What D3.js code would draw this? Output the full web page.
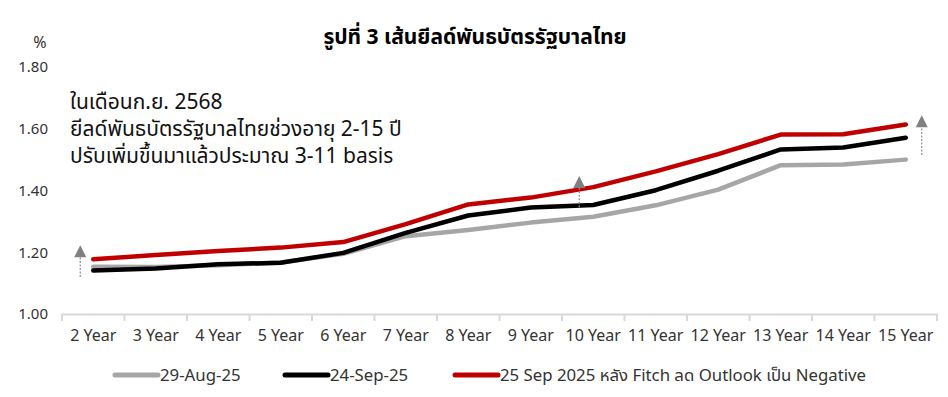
<!DOCTYPE html>
<html><head><meta charset="utf-8">
<script src="https://cdn.jsdelivr.net/npm/d3@7"></script>
<style>
body{margin:0;background:#fff;}
svg text{font-family:"Noto Sans Thai","Noto Sans","Liberation Sans",sans-serif;}
</style></head>
<body><svg id="chart" width="948" height="397"></svg>
<script>
const categories = ["2 Year","3 Year","4 Year","5 Year","6 Year","7 Year","8 Year","9 Year","10 Year","11 Year","12 Year","13 Year","14 Year","15 Year"];
const aug29 = [1.153,1.152,1.158,1.167,1.195,1.252,1.272,1.296,1.315,1.352,1.403,1.482,1.484,1.500];
const sep24 = [1.141,1.147,1.161,1.166,1.198,1.263,1.319,1.345,1.353,1.401,1.464,1.533,1.539,1.571];
const sep25 = [1.177,1.191,1.204,1.215,1.233,1.291,1.355,1.377,1.411,1.462,1.518,1.581,1.582,1.614];
const yTicks = [1.00,1.20,1.40,1.60,1.80];
const seriesNames = ["29-Aug-25","24-Sep-25","25 Sep 2025 หลัง Fitch ลด Outlook เป็น Negative"];
const seriesColors = ["#a6a6a6","#000000","#c00000"];
const arrowCats = ["2 Year","10 Year","15 Year"];
const arrowFrom = [1.12,1.346,1.515];
const arrowTo = [1.223,1.447,1.644];
const titleText = "รูปที่ 3 เส้นยีลด์พันธบัตรรัฐบาลไทย";
const noteLines = ["ในเดือนก.ย. 2568","ยีลด์พันธบัตรรัฐบาลไทยช่วงอายุ 2-15 ปี","ปรับเพิ่มขึ้นมาแล้วประมาณ 3-11 basis"];

const svg = d3.select("#chart");
const x = d3.scaleBand().domain(categories).range([62,937]);
const y = d3.scaleLinear().domain([1.0,1.8]).range([314,67]);

// title
svg.append("text").attr("x",475).attr("y",44).attr("text-anchor","middle")
  .attr("font-size",21).attr("font-weight","bold").attr("fill","#000").text(titleText);
// unit
svg.append("text").attr("x",40).attr("y",48).attr("text-anchor","middle").attr("font-size",16).attr("fill","#333").text("%");

// y axis labels
const yAxis = d3.axisLeft(y).tickValues(yTicks).tickFormat(d3.format(".2f")).tickSize(0).tickPadding(0);
const gy = svg.append("g").attr("transform","translate(48,0)").call(yAxis);
gy.select(".domain").remove();
gy.selectAll("text").attr("font-size",15).attr("fill","#333").attr("font-family",null);

// x axis
const xAxis = d3.axisBottom(x).tickSize(0).tickPadding(16);
const gx = svg.append("g").attr("transform","translate(0,314)").call(xAxis);
gx.select(".domain").attr("stroke","#d9d9d9").attr("stroke-width",2);
gx.selectAll("text").attr("font-size",16).attr("fill","#333").attr("font-family",null);
// boundary tick marks
const bounds = categories.map(c=>x(c)).concat([x.range()[1]]);
gx.selectAll("line.bt").data(bounds).join("line").attr("class","bt")
  .attr("x1",d=>d).attr("x2",d=>d).attr("y1",0).attr("y2",7)
  .attr("stroke","#d9d9d9").attr("stroke-width",2);

// lines
const series = [aug29, sep24, sep25];
const line = d3.line().x((d,i)=>x(categories[i])+x.bandwidth()/2).y(d=>y(d));
series.forEach((s,k)=>{
  svg.append("path").datum(s).attr("d",line).attr("fill","none")
    .attr("stroke",seriesColors[k]).attr("stroke-width",4.5)
    .attr("stroke-linejoin","round").attr("stroke-linecap","round");
});

// arrows
const arrowDx = [-13,-14,16];
arrowCats.forEach((c,i)=>{
  const ax = x(c)+x.bandwidth()/2+arrowDx[i];
  const y0 = y(arrowFrom[i]), y1 = y(arrowTo[i]);
  svg.append("line").attr("x1",ax).attr("x2",ax).attr("y1",y0).attr("y2",y1+10)
    .attr("stroke","#8c8c8c").attr("stroke-width",1.2).attr("stroke-dasharray","2,1.5");
  svg.append("path").attr("d",`M${ax},${y1} L${ax-6},${y1+12} L${ax+6},${y1+12} Z`).attr("fill","#808080");
});

// note
noteLines.forEach((t,i)=>{
  svg.append("text").attr("x",70).attr("y",109+i*27).attr("font-size",21).attr("fill","#111").text(t);
});

// legend
const legX = [115,285,455];
seriesNames.forEach((n,i)=>{
  svg.append("line").attr("x1",legX[i]).attr("x2",legX[i]+43).attr("y1",375).attr("y2",375)
    .attr("stroke",seriesColors[i]).attr("stroke-width",5).attr("stroke-linecap","round");
  svg.append("text").attr("x",legX[i]+45).attr("y",381).attr("font-size",16.8).attr("fill","#333").text(n);
});
</script></body></html>
